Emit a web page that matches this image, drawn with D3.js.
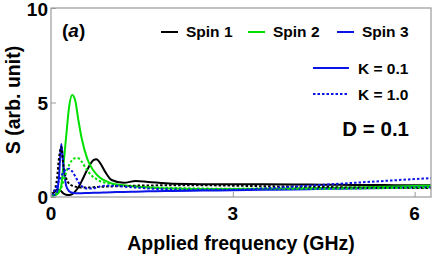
<!DOCTYPE html>
<html>
<head>
<meta charset="utf-8">
<script src="https://cdn.jsdelivr.net/npm/d3@7"></script>
<style>
  html, body { margin: 0; padding: 0; background: #fff; }
  svg { display: block; font-family: "Liberation Sans", Arial, sans-serif; font-weight: bold; }
</style>
</head>
<body>
<svg id="chart" width="433" height="255"></svg>
<script>
// frequency samples (GHz)
let freq = [0, 0.05, 0.1, 0.13, 0.17, 0.2, 0.25, 0.3, 0.35, 0.4, 0.45, 0.5, 0.6, 0.7, 0.75, 0.8, 0.9, 1.0,
	1.2, 1.4, 1.6, 2.0, 2.5, 3.0, 3.5, 4.0, 4.5, 5.0, 5.5, 6.0, 6.27];

// K = 0.1 (solid)
let spin1K01 = [0.15, 0.25, 0.4, 0.38, 0.3, 0.2, 0.12, 0.1, 0.15, 0.3, 0.5, 0.8, 1.45, 1.95, 2.0, 1.85, 1.3, 0.9,
	0.75, 0.85, 0.8, 0.7, 0.68, 0.68, 0.67, 0.66, 0.65, 0.64, 0.63, 0.62, 0.62];
let spin2K01 = [0.05, 0.08, 0.15, 0.25, 0.6, 1.5, 3.2, 4.8, 5.4, 5.1, 4.1, 3.2, 2.0, 1.4, 1.2, 1.05, 0.85, 0.72,
	0.62, 0.55, 0.5, 0.45, 0.42, 0.42, 0.43, 0.45, 0.48, 0.5, 0.54, 0.58, 0.6];
let spin3K01 = [0.05, 0.1, 0.25, 1.0, 2.8, 1.8, 0.6, 0.3, 0.22, 0.2, 0.2, 0.2, 0.21, 0.22, 0.22, 0.23, 0.24, 0.25,
	0.27, 0.28, 0.3, 0.32, 0.34, 0.36, 0.38, 0.4, 0.43, 0.45, 0.48, 0.5, 0.52];

// K = 1.0 (dotted)
let spin1K10 = [0.1, 0.3, 1.0, 2.0, 2.65, 1.8, 1.0, 0.7, 0.6, 0.55, 0.52, 0.5, 0.5, 0.52, 0.53, 0.54, 0.55, 0.56,
	0.58, 0.6, 0.61, 0.62, 0.62, 0.6, 0.57, 0.55, 0.53, 0.5, 0.49, 0.48, 0.48];
let spin2K10 = [0.05, 0.1, 0.2, 0.3, 0.5, 0.8, 1.3, 1.7, 1.95, 2.05, 2.05, 1.9, 1.4, 1.05, 0.95, 0.85, 0.75, 0.68,
	0.6, 0.55, 0.52, 0.48, 0.45, 0.43, 0.43, 0.43, 0.44, 0.45, 0.47, 0.5, 0.52];
let spin3K10 = [0.1, 0.3, 0.6, 0.85, 1.1, 1.3, 1.45, 1.5, 1.35, 1.1, 0.8, 0.6, 0.45, 0.45, 0.5, 0.55, 0.6, 0.6,
	0.55, 0.5, 0.45, 0.4, 0.38, 0.38, 0.45, 0.55, 0.65, 0.75, 0.85, 0.95, 1.0];

let xTicks = [0, 3, 6];
let yTicks = [0, 5, 10];

let spinNames = ['Spin 1', 'Spin 2', 'Spin 3'];
let spinColors = ['#000000', '#00e000', '#0a14e6'];
let kNames = ['K = 0.1', 'K = 1.0'];

let series = [
	{vals: spin1K01, color: spinColors[0], dash: null},
	{vals: spin2K01, color: spinColors[1], dash: null},
	{vals: spin3K01, color: spinColors[2], dash: null},
	{vals: spin1K10, color: spinColors[0], dash: '2.5,2'},
	{vals: spin2K10, color: spinColors[1], dash: '2.5,2'},
	{vals: spin3K10, color: spinColors[2], dash: '2.5,2'},
];

let svg = d3.select('#chart');
let pL = 51, pR = 431, pT = 8, pB = 197;

let x = d3.scaleLinear().domain([0, 6.27]).range([pL, pR]);
let y = d3.scaleLinear().domain([0, 10]).range([pB, pT]);

svg.append('clipPath').attr('id', 'clip')
	.append('rect').attr('x', pL).attr('y', pT).attr('width', pR-pL).attr('height', pB-pT);

let line = d3.line()
	.x((d, i) => x(freq[i]))
	.y(d => y(d))
	.curve(d3.curveMonotoneX);

let plot = svg.append('g').attr('clip-path', 'url(#clip)');
series.forEach(s => {
	plot.append('path')
		.attr('d', line(s.vals))
		.attr('fill', 'none')
		.attr('stroke', s.color)
		.attr('stroke-width', 2)
		.attr('stroke-dasharray', s.dash);
});

// frame
svg.append('rect')
	.attr('x', pL).attr('y', pT)
	.attr('width', pR-pL).attr('height', pB-pT)
	.attr('fill', 'none').attr('stroke', '#999').attr('stroke-width', 1.2);

// inward ticks
let xAxis = svg.append('g').attr('transform', `translate(0,${pB})`)
	.call(d3.axisBottom(x).tickValues(xTicks).tickSize(-5).tickFormat(''));
let yAxis = svg.append('g').attr('transform', `translate(${pL},0)`)
	.call(d3.axisLeft(y).tickValues(yTicks).tickSize(-5).tickFormat(''));
[xAxis, yAxis].forEach(a => {
	a.select('.domain').remove();
	a.selectAll('line').attr('stroke', '#999');
});

// tick labels
svg.selectAll('.xlab').data(xTicks).enter().append('text')
	.attr('x', d => x(d)).attr('y', 220)
	.attr('text-anchor', 'middle').attr('font-size', 19)
	.text(d => d);
svg.selectAll('.ylab').data(yTicks).enter().append('text')
	.attr('x', 48).attr('y', d => Math.max(y(d) + 7, 16))
	.attr('text-anchor', 'end').attr('font-size', 19)
	.text(d => d);

// axis titles
svg.append('text')
	.attr('x', 241).attr('y', 250)
	.attr('text-anchor', 'middle').attr('font-size', 19.5)
	.text('Applied frequency (GHz)');
svg.append('text')
	.attr('transform', 'translate(20,100) rotate(-90)')
	.attr('text-anchor', 'middle').attr('font-size', 19.5)
	.text('S (arb. unit)');

// panel label
let lab = svg.append('text').attr('x', 62).attr('y', 37).attr('font-size', 19);
lab.append('tspan').text('(');
lab.append('tspan').attr('font-style', 'italic').text('a');
lab.append('tspan').text(')');

// spin legend
let spinX = [161, 248, 337];
spinNames.forEach((n, i) => {
	svg.append('line')
		.attr('x1', spinX[i]).attr('x2', spinX[i] + 17)
		.attr('y1', 32).attr('y2', 32)
		.attr('stroke', spinColors[i]).attr('stroke-width', 2);
	svg.append('text')
		.attr('x', spinX[i] + 25).attr('y', 37)
		.attr('font-size', 15.5)
		.text(n);
});

// K legend
let kY = [68, 94];
kNames.forEach((n, i) => {
	svg.append('line')
		.attr('x1', 313).attr('x2', 349)
		.attr('y1', kY[i]).attr('y2', kY[i])
		.attr('stroke', spinColors[2]).attr('stroke-width', 2)
		.attr('stroke-dasharray', i === 1 ? '2.5,2' : null);
	svg.append('text')
		.attr('x', 358).attr('y', kY[i] + 5.5)
		.attr('font-size', 15.5)
		.text(n);
});

svg.append('text')
	.attr('x', 409).attr('y', 136)
	.attr('text-anchor', 'end').attr('font-size', 20.5)
	.text('D = 0.1');
</script>
</body>
</html>
